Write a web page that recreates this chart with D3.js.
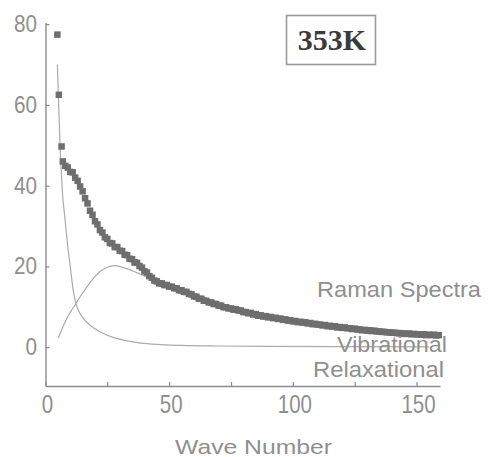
<!DOCTYPE html>
<html>
<head>
<meta charset="utf-8">
<script src="https://cdn.jsdelivr.net/npm/d3@7"></script>
<style>
  html, body { margin: 0; padding: 0; background: #fff; }
  svg { display: block; }
</style>
</head>
<body>
<svg id="chart" width="490" height="457"></svg>
<script>
// ---- data ----
const xTicks = [0, 25, 50, 75, 100, 125, 150];
const xTickLabels = ["0", "", "50", "", "100", "", "150"];
const yTicks = [0, 20, 40, 60, 80];
const yTickLabels = ["0", "20", "40", "60", "80"];

const ramanWave = [4.8, 5.4, 6.5,
  7, 8, 9, 10, 11, 12, 13, 14, 15, 16, 17, 18, 19, 20,
  21, 22, 23, 24, 25, 26, 27, 28, 29, 30,
  31, 32, 33, 34, 35, 36, 37, 38, 39, 40,
  41, 42, 43, 44, 45, 46, 47, 48, 49, 50,
  51, 52, 53, 54, 55, 56, 57, 58, 59, 60,
  61, 62, 63, 64, 65, 66, 67, 68, 69, 70,
  71, 72, 73, 74, 75, 76, 77, 78, 79, 80,
  81, 82, 83, 84, 85, 86, 87, 88, 89, 90,
  91, 92, 93, 94, 95, 96, 97, 98, 99, 100,
  101, 102, 103, 104, 105, 106, 107, 108, 109, 110,
  111, 112, 113, 114, 115, 116, 117, 118, 119, 120,
  121, 122, 123, 124, 125, 126, 127, 128, 129, 130,
  131, 132, 133, 134, 135, 136, 137, 138, 139, 140,
  141, 142, 143, 144, 145, 146, 147, 148, 149, 150,
  151, 152, 153, 154, 155, 156, 157, 158, 159];
const ramanIntensity = [77.4, 62.5, 49.7,
  46.0, 44.9, 44.5, 43.4, 43.3, 42.0, 41.2, 39.8, 38.6, 36.9, 35.6, 33.8, 32.8, 31.2,
  30.4, 29.0, 28.4, 27.2, 26.8, 25.8, 25.7, 24.8, 24.8, 23.9,
  23.8, 22.9, 22.8, 21.9, 21.8, 21.0, 20.9, 20.1, 19.7, 18.8,
  18.5, 17.6, 17.2, 16.5, 16.3, 15.8, 15.8, 15.4, 15.4, 15.0,
  15.0, 14.6, 14.6, 14.1, 14.1, 13.7, 13.7, 13.2, 13.1, 12.6,
  12.5, 12.0, 12.0, 11.5, 11.5, 11.1, 11.1, 10.7, 10.7, 10.3,
  10.3, 9.9, 9.9, 9.6, 9.6, 9.3, 9.4, 9.1, 9.1, 8.7,
  8.7, 8.4, 8.5, 8.1, 8.2, 7.8, 7.9, 7.6, 7.7, 7.4,
  7.5, 7.2, 7.3, 7.0, 7.1, 6.8, 6.9, 6.6, 6.7, 6.4,
  6.5, 6.2, 6.3, 6.1, 6.2, 5.9, 6.0, 5.7, 5.8, 5.6,
  5.6, 5.4, 5.5, 5.2, 5.3, 5.1, 5.2, 4.9, 5.0, 4.8,
  4.9, 4.7, 4.7, 4.5, 4.6, 4.4, 4.4, 4.2, 4.3, 4.1,
  4.2, 4.0, 4.1, 3.9, 3.9, 3.8, 3.8, 3.7, 3.7, 3.6,
  3.6, 3.5, 3.5, 3.4, 3.4, 3.3, 3.4, 3.2, 3.3, 3.2,
  3.2, 3.1, 3.2, 3.0, 3.1, 3.0, 3.1, 2.9, 3.0];

const relaxWave = [4.8, 5.2, 5.6, 6.0, 6.5, 7, 7.5, 8, 9, 10, 11, 12, 13, 14, 15, 17, 20, 23, 27, 32, 38, 45, 55, 70, 90, 120, 155];
const relaxIntensity = [70, 62, 55, 48, 42, 37, 34, 31, 25, 20, 15, 11.5, 9.6, 8.3, 7.4, 6.0, 4.6, 3.5, 2.5, 1.7, 1.1, 0.7, 0.45, 0.3, 0.2, 0.15, 0.1];

const vibWave = [5.2, 6, 7, 8, 9, 10, 11, 12, 14, 16, 18, 20, 22, 24, 26, 28, 30, 32, 34, 36, 38, 40, 42, 45, 50, 55, 60, 65, 70, 75, 80, 85, 90, 95, 100, 110, 120, 130, 140, 150, 158];
const vibIntensity = [2.3, 3.5, 5.0, 6.3, 7.6, 8.6, 9.6, 10.5, 12.5, 14.3, 16.0, 17.5, 18.7, 19.5, 20.0, 20.2, 20.0, 19.6, 19.2, 18.7, 18.2, 17.6, 17.0, 16.0, 14.6, 13.5, 12.2, 11.0, 9.9, 9.1, 8.3, 7.7, 7.1, 6.6, 6.1, 5.2, 4.5, 3.9, 3.4, 3.0, 2.7];

const seriesLabels = ["Raman Spectra", "Vibrational", "Relaxational"];
const xTitle = "Wave Number";
const tempLabel = "353K";

// ---- drawing ----
const svg = d3.select("#chart");
const x = d3.scaleLinear().domain([0, 159.5]).range([45.5, 440]);
const y = d3.scaleLinear().domain([-9.6, 80.4]).range([386, 22.5]);

const axisColor = "#8c8c8c";
const textColor = "#8f8f8f";
const sansFont = "'Liberation Sans', Arial, Helvetica, sans-serif";

// x axis
const gx = svg.append("g").attr("transform", `translate(0,${y.range()[0]})`)
  .call(d3.axisBottom(x).tickValues(xTicks).tickSizeInner(-4).tickSizeOuter(0).tickFormat(""));
gx.select(".domain").attr("stroke", axisColor).attr("stroke-width", 1.4);
gx.selectAll(".tick line").attr("stroke", axisColor).attr("stroke-width", 1.2);
gx.selectAll(".tick text").remove();
svg.append("g").selectAll("text").data(xTicks.map((v, i) => [v, xTickLabels[i]]).filter(d => d[1] !== ""))
  .join("text")
  .attr("transform", d => `translate(${x(d[0]) + 2},412.5) scale(0.82,1)`)
  .attr("text-anchor", "middle")
  .attr("font-family", sansFont).attr("font-size", 25).attr("fill", textColor)
  .text(d => d[1]);

// y axis
const gy = svg.append("g").attr("transform", `translate(${x.range()[0]},0)`)
  .call(d3.axisLeft(y).tickValues(yTicks).tickSizeInner(-4).tickSizeOuter(0).tickFormat(""));
gy.select(".domain").attr("stroke", axisColor).attr("stroke-width", 1.4);
gy.selectAll(".tick line").attr("stroke", axisColor).attr("stroke-width", 1.2);
gy.selectAll(".tick text").remove();
svg.append("g").selectAll("text").data(yTicks.map((v, i) => [v, yTickLabels[i]]))
  .join("text")
  .attr("transform", d => `translate(37,${y(d[0]) + 8}) scale(0.9,1)`)
  .attr("text-anchor", "end")
  .attr("font-family", sansFont).attr("font-size", 23).attr("fill", textColor)
  .text(d => d[1]);

// curves
const line = d3.line().x(d => x(d[0])).y(d => y(d[1])).curve(d3.curveMonotoneX);
svg.append("path")
  .datum(relaxWave.map((w, i) => [w, relaxIntensity[i]]))
  .attr("d", line).attr("fill", "none").attr("stroke", "#ababab").attr("stroke-width", 1.2);
svg.append("path")
  .datum(vibWave.map((w, i) => [w, vibIntensity[i]]))
  .attr("d", line).attr("fill", "none").attr("stroke", "#ababab").attr("stroke-width", 1.2);

// raman data points
const ms = 6.5;
svg.append("g").selectAll("rect")
  .data(ramanWave.map((w, i) => [w, ramanIntensity[i]]))
  .join("rect")
  .attr("x", d => x(d[0]) - ms / 2).attr("y", d => y(d[1]) - ms / 2)
  .attr("width", ms).attr("height", ms)
  .attr("fill", "#6e6e6e");

// series labels
const labelPos = [[317, 297, 164], [337, 352, 110], [313, 377, 131]];
svg.append("g").selectAll("text").data(seriesLabels)
  .join("text")
  .attr("x", (d, i) => labelPos[i][0]).attr("y", (d, i) => labelPos[i][1])
  .attr("textLength", (d, i) => labelPos[i][2]).attr("lengthAdjust", "spacingAndGlyphs")
  .attr("font-family", sansFont).attr("font-size", 22).attr("fill", textColor)
  .text(d => d);

// x title
svg.append("text")
  .attr("x", 175).attr("y", 454)
  .attr("textLength", 157).attr("lengthAdjust", "spacingAndGlyphs")
  .attr("font-family", sansFont).attr("font-size", 21).attr("fill", textColor)
  .text(xTitle);

// temperature box
svg.append("rect").attr("x", 286.5).attr("y", 15.5).attr("width", 89).attr("height", 49)
  .attr("fill", "none").attr("stroke", "#9a9a9a").attr("stroke-width", 1.6);
svg.append("text")
  .attr("x", 332).attr("y", 50)
  .attr("text-anchor", "middle")
  .attr("font-family", "'Liberation Serif', 'Times New Roman', serif")
  .attr("font-weight", "bold").attr("font-size", 30).attr("fill", "#3a3a3a")
  .text(tempLabel);
</script>
</body>
</html>
